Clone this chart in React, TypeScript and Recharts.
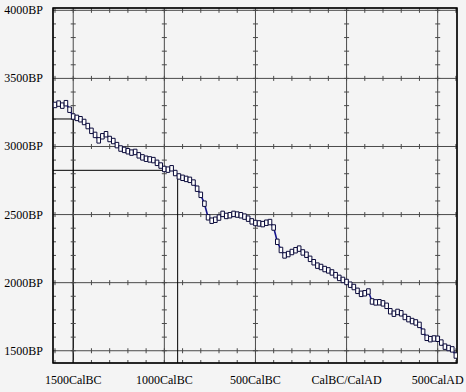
import React from 'react';
import {
  ComposedChart,
  Bar,
  Line,
  XAxis,
  YAxis,
  CartesianGrid,
  ReferenceArea,
  ReferenceLine,
  Scatter,
} from 'recharts';

// Calibration curve: calendar years (negative = BC) and radiocarbon age (BP)
const YEARS = [
  -1600, -1580, -1560, -1540, -1520, -1500, -1480, -1460, -1440, -1420,
  -1400, -1380, -1360, -1340, -1320, -1300, -1280, -1260, -1240, -1220,
  -1200, -1180, -1160, -1140, -1120, -1100, -1080, -1060, -1040, -1020,
  -1000, -980, -960, -940, -920, -900, -880, -860, -840, -820,
  -800, -780, -760, -740, -720, -700, -680, -660, -640, -620,
  -600, -580, -560, -540, -520, -500, -480, -460, -440, -420,
  -400, -380, -360, -340, -320, -300, -280, -260, -240, -220,
  -200, -180, -160, -140, -120, -100, -80, -60, -40, -20,
  0, 20, 40, 60, 80, 100, 120, 140, 160, 180,
  200, 220, 240, 260, 280, 300, 320, 340, 360, 380,
  400, 420, 440, 460, 480, 500, 520, 540, 560, 580,
  600,
];

const MID_BP = [
  3305, 3315, 3300, 3318, 3270, 3220, 3210, 3200, 3180, 3150,
  3115, 3085, 3045, 3075, 3090, 3055, 3040, 3010, 2985, 2975,
  2965, 2955, 2960, 2935, 2920, 2910, 2905, 2900, 2880, 2860,
  2835, 2830, 2840, 2805, 2780, 2770, 2762, 2755, 2735, 2690,
  2645, 2580, 2480, 2455, 2462, 2478, 2505, 2490, 2495, 2505,
  2500, 2495, 2485, 2470, 2450, 2438, 2435, 2430, 2440, 2445,
  2405, 2300, 2240, 2200, 2210, 2225, 2238, 2250, 2222, 2205,
  2175, 2150, 2125, 2115, 2100, 2090, 2075, 2055, 2035, 2020,
  2005, 1985, 1968, 1940, 1918, 1922, 1935, 1862, 1855, 1856,
  1848, 1830, 1790, 1772, 1785, 1775, 1748, 1732, 1718, 1708,
  1690, 1640, 1595, 1585, 1590, 1588, 1560, 1530, 1520, 1510,
  1465,
];

const SIGMA_BP = 20;

const X_TICKS = [-1500, -1000, -500, 0, 500];
const X_TICK_LABELS = ['1500CalBC', '1000CalBC', '500CalBC', 'CalBC/CalAD', '500CalAD'];
const Y_TICKS = [1500, 2000, 2500, 3000, 3500, 4000];
const Y_TICK_LABELS = ['1500BP', '2000BP', '2500BP', '3000BP', '3500BP', '4000BP'];

const X_DOMAIN: [number, number] = [-1611, 606];
const Y_DOMAIN: [number, number] = [1410, 4017];

// minor tick steps
const MINOR_YEARS: number[] = [];
for (let y = -1600; y <= 600; y += 100) MINOR_YEARS.push(y);
const MINOR_BP: number[] = [];
for (let b = 1500; b <= 4000; b += 100) MINOR_BP.push(b);

// intercept markers (measured date -> calendar)
const MARKER_SEGMENTS = [
  [{ x: -1611, y: 3202 }, { x: -1500, y: 3202 }],
  [{ x: -1500, y: 3202 }, { x: -1500, y: 1410 }],
  [{ x: -1611, y: 2825 }, { x: -1000, y: 2825 }],
  [{ x: -927, y: 2790 }, { x: -927, y: 1410 }],
];

const chartData = YEARS.map((x, i) => ({
  x,
  mid: MID_BP[i],
  range: [MID_BP[i] - SIGMA_BP, MID_BP[i] + SIGMA_BP],
}));

const ticksOnHorizontal: { x: number; y: number }[] = [];
Y_TICKS.forEach((g) => MINOR_YEARS.forEach((yr) => ticksOnHorizontal.push({ x: yr, y: g })));
const ticksOnVertical: { x: number; y: number }[] = [];
X_TICKS.forEach((v) => MINOR_BP.forEach((b) => ticksOnVertical.push({ x: v, y: b })));
const ticksBottomFrame = MINOR_YEARS.map((yr) => ({ x: yr, y: Y_DOMAIN[0] }));
const ticksLeftFrame = MINOR_BP.map((b) => ({ x: X_DOMAIN[0], y: b }));

const TICK_COLOR = '#4a4a4a';
const FONT = '"Liberation Serif", "Times New Roman", serif';
const W = 466;
const H = 392;
const MARGIN = { top: 8, right: 9, bottom: 0, left: 0 };

const VTick = (p: any) => (
  <line x1={p.cx} x2={p.cx} y1={p.cy - 2.5} y2={p.cy + 2.5} stroke={TICK_COLOR} strokeWidth={1} />
);
const HTick = (p: any) => (
  <line x1={p.cx - 2.5} x2={p.cx + 2.5} y1={p.cy} y2={p.cy} stroke={TICK_COLOR} strokeWidth={1} />
);
const UpTick = (p: any) => (
  <line x1={p.cx} x2={p.cx} y1={p.cy - 3} y2={p.cy} stroke={TICK_COLOR} strokeWidth={1} />
);
const RightTick = (p: any) => (
  <line x1={p.cx} x2={p.cx + 3} y1={p.cy} y2={p.cy} stroke={TICK_COLOR} strokeWidth={1} />
);

const XTick = (p: any) => {
  const idx = X_TICKS.indexOf(p.payload.value);
  return (
    <text x={p.x} y={384} textAnchor="middle" fontFamily={FONT} fontSize={12} fill="#000">
      {X_TICK_LABELS[idx]}
    </text>
  );
};
const YTick = (p: any) => {
  const idx = Y_TICKS.indexOf(p.payload.value);
  return (
    <text x={43} y={p.y + 4} textAnchor="end" fontFamily={FONT} fontSize={12} fill="#000">
      {Y_TICK_LABELS[idx]}
    </text>
  );
};

const axes = (showTicks: boolean) => [
  <XAxis
    key="x"
    dataKey="x"
    type="number"
    domain={X_DOMAIN}
    allowDataOverflow
    ticks={X_TICKS}
    interval={0}
    height={29}
    axisLine={false}
    tickLine={false}
    tick={showTicks ? <XTick /> : false}
  />,
  <YAxis
    key="y"
    type="number"
    domain={Y_DOMAIN}
    allowDataOverflow
    ticks={Y_TICKS}
    interval={0}
    width={53}
    axisLine={false}
    tickLine={false}
    tick={showTicks ? <YTick /> : false}
  />,
];

export default function App() {
  return (
    <div
      style={{
        position: 'absolute',
        left: 0,
        top: 0,
        width: W,
        height: H,
        background: '#f4f4f4',
      }}
    >
      {/* lower layer: grid, minor ticks, intercept markers and the mean curve */}
      <div style={{ position: 'absolute', left: 0, top: 0 }}>
        <ComposedChart width={W} height={H} data={chartData} margin={MARGIN}>
          <CartesianGrid stroke={TICK_COLOR} strokeWidth={1} />
          {axes(true)}
          <Scatter data={ticksOnHorizontal} dataKey="y" shape={VTick} isAnimationActive={false} />
          <Scatter data={ticksOnVertical} dataKey="y" shape={HTick} isAnimationActive={false} />
          <Scatter data={ticksBottomFrame} dataKey="y" shape={UpTick} isAnimationActive={false} />
          <Scatter data={ticksLeftFrame} dataKey="y" shape={RightTick} isAnimationActive={false} />
          {MARKER_SEGMENTS.map((seg, i) => (
            <ReferenceLine key={i} segment={seg} stroke="#000" strokeWidth={1} ifOverflow="visible" />
          ))}
          <Line
            dataKey="mid"
            type="linear"
            stroke="#14148c"
            strokeWidth={1.6}
            dot={false}
            isAnimationActive={false}
          />
        </ComposedChart>
      </div>
      {/* upper layer: uncertainty boxes and frame */}
      <div style={{ position: 'absolute', left: 0, top: 0 }}>
        <ComposedChart width={W} height={H} data={chartData} margin={MARGIN}>
          {axes(false)}
          <Bar
            dataKey="range"
            barSize={3.6}
            fill="#ffffff"
            stroke="#0a0a3a"
            strokeWidth={1}
            isAnimationActive={false}
          />
          <ReferenceArea
            x1={X_DOMAIN[0]}
            x2={X_DOMAIN[1]}
            y1={Y_DOMAIN[0]}
            y2={Y_DOMAIN[1]}
            fill="none"
            stroke="#000"
            strokeWidth={1.5}
            ifOverflow="visible"
          />
        </ComposedChart>
      </div>
    </div>
  );
}
